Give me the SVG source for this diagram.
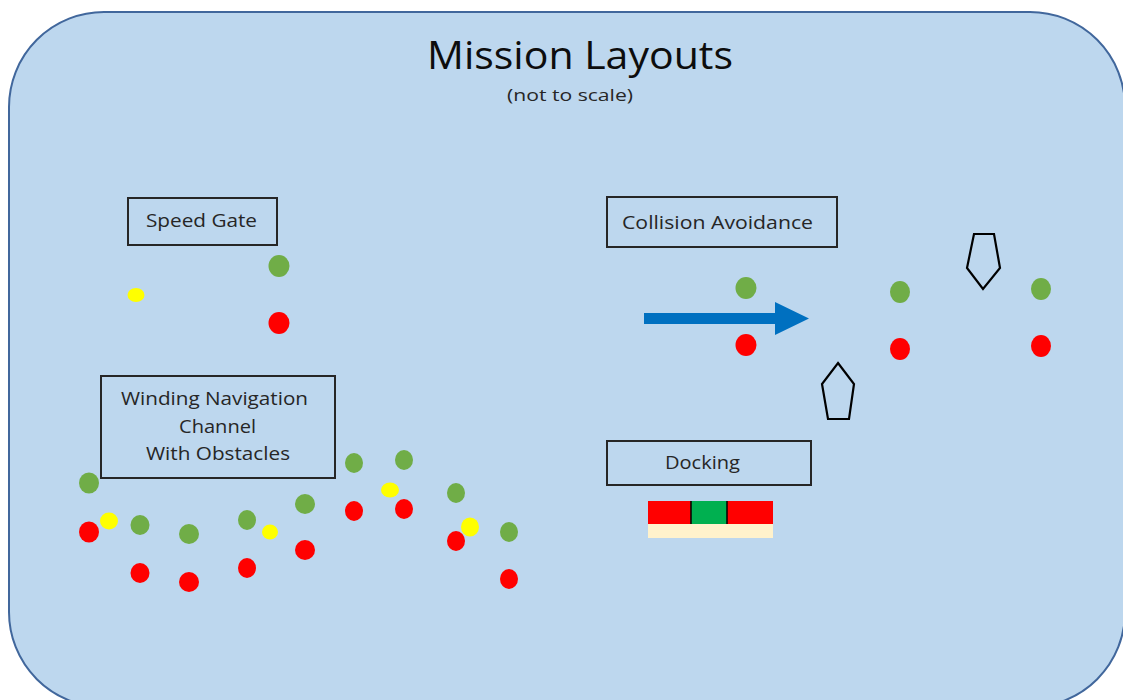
<svg xmlns="http://www.w3.org/2000/svg" width="1123" height="700" viewBox="0 0 1123 700">
  <style>
    .label { font-family: "Open Sans", Lato, "Liberation Sans", sans-serif; fill: #262626; }
    .box { fill: none; stroke: #262626; stroke-width: 2; }
    .g { fill: #70AD47; }
    .r { fill: #FF0000; }
    .y { fill: #FFFF00; }
    .boat { fill: none; stroke: #000; stroke-width: 2.2; stroke-linejoin: miter; }
  </style>

  <rect width="1123" height="700" fill="#FFFFFF"/>
  <!-- background panel -->
  <rect id="panel" x="9" y="12" width="1116" height="695" rx="95" ry="95" fill="#BDD7EE" stroke="#41679C" stroke-width="2"/>

  <g id="title">
    <text class="label" x="427" y="69" font-size="38" textLength="306" lengthAdjust="spacingAndGlyphs" style="fill:#0d0d0d">Mission Layouts</text>
    <text class="label" x="507" y="101" font-size="17" textLength="126" lengthAdjust="spacingAndGlyphs">(not to scale)</text>
  </g>

  <!-- Speed gate -->
  <g id="speed-gate">
    <rect class="box" x="128" y="198" width="149" height="47"/>
    <text class="label" x="146" y="227" font-size="18" textLength="111" lengthAdjust="spacingAndGlyphs">Speed Gate</text>
    <ellipse class="y" cx="136" cy="295" rx="8.5" ry="7"/>
    <ellipse class="g" cx="279" cy="266" rx="10.5" ry="11"/>
    <ellipse class="r" cx="279" cy="323" rx="10.5" ry="11"/>
  </g>

  <!-- Collision avoidance -->
  <g id="collision-avoidance">
    <rect class="box" x="607" y="197" width="230" height="50"/>
    <text class="label" x="622" y="229" font-size="18" textLength="191" lengthAdjust="spacingAndGlyphs">Collision Avoidance</text>
    <ellipse class="g" cx="746" cy="288" rx="10.5" ry="11"/>
    <ellipse class="r" cx="746" cy="345" rx="10.5" ry="11"/>
    <ellipse class="g" cx="900" cy="292" rx="10" ry="11"/>
    <ellipse class="r" cx="900" cy="349" rx="10" ry="11"/>
    <ellipse class="g" cx="1041" cy="289" rx="10" ry="11"/>
    <ellipse class="r" cx="1041" cy="346" rx="10" ry="11"/>
    <polygon id="boat-up" class="boat" points="838,363 854,384 849,419 828,419 822,384"/>
    <polygon id="boat-down" class="boat" points="974,234 994,234 1000,268 983,289 967,268"/>
  </g>

  <!-- Winding navigation channel -->
  <g id="winding-channel">
    <rect class="box" x="101" y="376" width="234" height="102"/>
    <text class="label" x="121" y="405" font-size="18" textLength="187" lengthAdjust="spacingAndGlyphs">Winding Navigation</text>
    <text class="label" x="179" y="433" font-size="18" textLength="77" lengthAdjust="spacingAndGlyphs">Channel</text>
    <text class="label" x="146" y="460" font-size="18" textLength="144" lengthAdjust="spacingAndGlyphs">With Obstacles</text>
    <ellipse class="g" cx="89" cy="483" rx="10" ry="10.5"/>
    <ellipse class="r" cx="89" cy="532" rx="10" ry="10.5"/>
    <ellipse class="y" cx="109" cy="521" rx="9" ry="8.5"/>
    <ellipse class="g" cx="140" cy="525" rx="9.5" ry="10"/>
    <ellipse class="r" cx="140" cy="573" rx="9.5" ry="10"/>
    <ellipse class="g" cx="189" cy="534" rx="10" ry="10"/>
    <ellipse class="r" cx="189" cy="582" rx="10" ry="10"/>
    <ellipse class="g" cx="247" cy="520" rx="9" ry="10"/>
    <ellipse class="r" cx="247" cy="568" rx="9" ry="10"/>
    <ellipse class="y" cx="270" cy="532" rx="8" ry="7.5"/>
    <ellipse class="g" cx="305" cy="504" rx="10" ry="10"/>
    <ellipse class="r" cx="305" cy="550" rx="10" ry="10"/>
    <ellipse class="g" cx="354" cy="463" rx="9" ry="10"/>
    <ellipse class="r" cx="354" cy="511" rx="9" ry="10"/>
    <ellipse class="g" cx="404" cy="460" rx="9" ry="10"/>
    <ellipse class="r" cx="404" cy="509" rx="9" ry="10"/>
    <ellipse class="y" cx="390" cy="490" rx="9" ry="7.5"/>
    <ellipse class="g" cx="456" cy="493" rx="9" ry="10"/>
    <ellipse class="r" cx="456" cy="541" rx="9" ry="10"/>
    <ellipse class="y" cx="470" cy="527" rx="9" ry="9.5"/>
    <ellipse class="g" cx="509" cy="532" rx="9" ry="10"/>
    <ellipse class="r" cx="509" cy="579" rx="9" ry="10"/>
  </g>

  <!-- Docking -->
  <g id="docking">
    <rect class="box" x="607" y="441" width="204" height="44"/>
    <text class="label" x="665" y="469" font-size="18" textLength="75" lengthAdjust="spacingAndGlyphs">Docking</text>
    <rect x="648" y="524" width="125" height="14" fill="#FFF2CC"/>
    <rect x="648" y="501" width="43" height="23" fill="#FF0000"/>
    <rect x="691" y="501" width="36" height="23" fill="#00B050"/>
    <rect x="727" y="501" width="46" height="23" fill="#FF0000"/>
    <line x1="691" y1="501" x2="691" y2="524" stroke="#000" stroke-width="1.5"/>
    <line x1="727" y1="501" x2="727" y2="524" stroke="#000" stroke-width="1.5"/>
  </g>

  <!-- direction of travel -->
  <g id="connectors">
    <polygon fill="#0070C0" points="644,313 775,313 775,302 809,318.5 775,335 775,324 644,324"/>
  </g>
</svg>
